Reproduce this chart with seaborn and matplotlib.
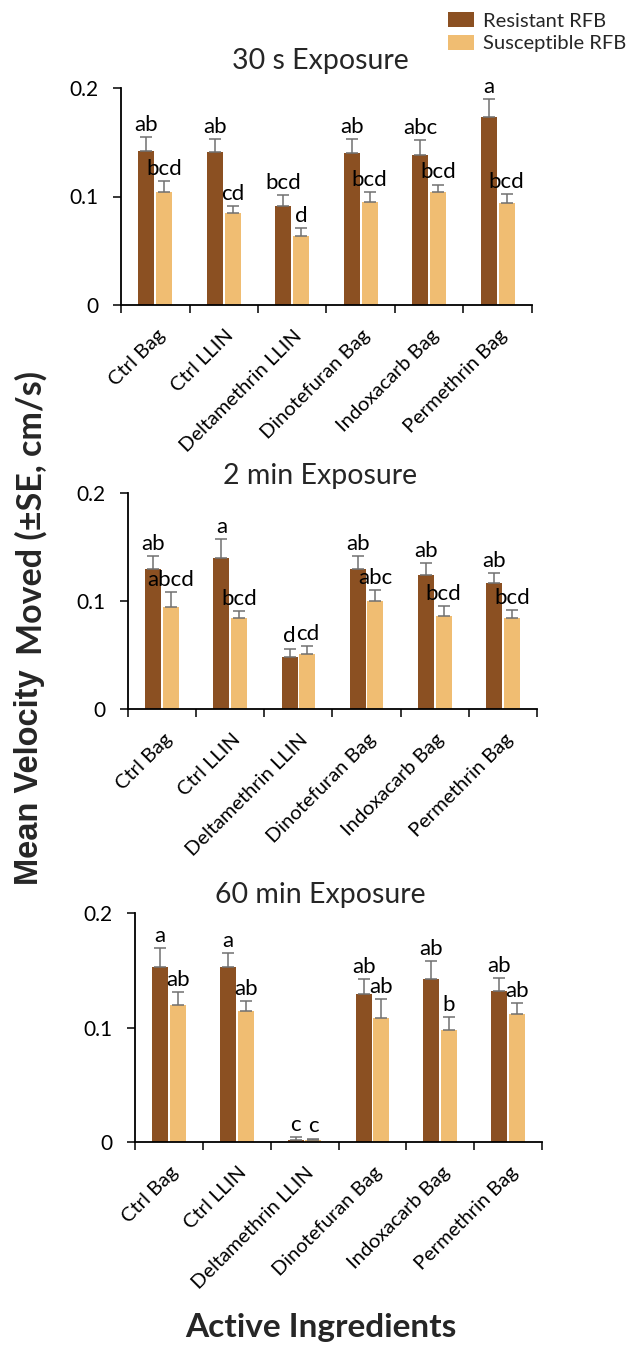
import numpy as np
import pandas as pd
import seaborn as sns
import matplotlib.pyplot as plt
from matplotlib.patches import Patch
from matplotlib.transforms import ScaledTranslation

# treatments on the x axis
treatments = ['Ctrl Bag', 'Ctrl LLIN', 'Deltamethrin LLIN', 'Dinotefuran Bag',
              'Indoxacarb Bag', 'Permethrin Bag']
strains = ['Resistant RFB', 'Susceptible RFB']
panel_titles = ['30 s Exposure', '2 min Exposure', '60 min Exposure']

# mean velocity (cm/s)
res_30s = [0.142, 0.141, 0.091, 0.140, 0.138, 0.173]
sus_30s = [0.104, 0.085, 0.064, 0.095, 0.104, 0.094]
res_2min = [0.130, 0.140, 0.048, 0.130, 0.124, 0.117]
sus_2min = [0.094, 0.084, 0.051, 0.100, 0.086, 0.084]
res_60min = [0.153, 0.153, 0.002, 0.129, 0.142, 0.132]
sus_60min = [0.120, 0.114, 0.002, 0.108, 0.098, 0.112]

# standard errors
res_30s_se = [0.013, 0.012, 0.010, 0.013, 0.014, 0.017]
sus_30s_se = [0.010, 0.006, 0.007, 0.009, 0.007, 0.008]
res_2min_se = [0.012, 0.017, 0.008, 0.012, 0.011, 0.009]
sus_2min_se = [0.014, 0.007, 0.007, 0.010, 0.009, 0.008]
res_60min_se = [0.016, 0.012, 0.002, 0.013, 0.016, 0.011]
sus_60min_se = [0.011, 0.009, 0.001, 0.017, 0.011, 0.009]

# significance letters
res_30s_lab = ['ab', 'ab', 'bcd', 'ab', 'abc', 'a']
sus_30s_lab = ['bcd', 'cd', 'd', 'bcd', 'bcd', 'bcd']
res_2min_lab = ['ab', 'a', 'd', 'ab', 'ab', 'ab']
sus_2min_lab = ['abcd', 'bcd', 'cd', 'abc', 'bcd', 'bcd']
res_60min_lab = ['a', 'a', 'c', 'ab', 'ab', 'ab']
sus_60min_lab = ['ab', 'ab', 'c', 'ab', 'b', 'ab']

panels = [
    (res_30s, sus_30s, res_30s_se, sus_30s_se, res_30s_lab, sus_30s_lab),
    (res_2min, sus_2min, res_2min_se, sus_2min_se, res_2min_lab, sus_2min_lab),
    (res_60min, sus_60min, res_60min_se, sus_60min_se, res_60min_lab, sus_60min_lab),
]

colors = ['#8B5022', '#F0BD72']

sns.set_style('white')
plt.rcParams['font.family'] = ['Lato', 'DejaVu Sans']

fig = plt.figure(figsize=(6.38, 13.45), dpi=100)
W, H = 638, 1345
# axes boxes in pixels: left, right, top, bottom
boxes = [(121, 532, 88, 305), (128, 537, 493, 709), (135, 542, 913, 1142)]
title_pads = [14, 6.5, 7]
title_center = 320

for (res, sus, res_se, sus_se, res_lab, sus_lab), box, title, tpad in zip(
        panels, boxes, panel_titles, title_pads):
    l, r, t, b = box
    ax = fig.add_axes([l / W, 1 - b / H, (r - l) / W, (b - t) / H])
    df = pd.DataFrame({
        'treatment': treatments * 2,
        'strain': [strains[0]] * 6 + [strains[1]] * 6,
        'velocity': res + sus,
    })
    sns.barplot(data=df, x='treatment', y='velocity', hue='strain',
                order=treatments, hue_order=strains, palette=colors,
                saturation=1, width=0.52, gap=0.1, errorbar=None, linewidth=0,
                legend=False, ax=ax)
    for cont, se, labs in zip(ax.containers, [res_se, sus_se], [res_lab, sus_lab]):
        xs = [p.get_x() + p.get_width() / 2 for p in cont]
        ys = [p.get_height() for p in cont]
        ax.errorbar(xs, ys, yerr=[np.zeros(len(se)), se], fmt='none',
                    ecolor='#707070', elinewidth=1.1, capsize=4, capthick=1.1)
        for x, y, e, lab in zip(xs, ys, se, labs):
            ax.annotate(lab, (x, y + e), xytext=(0, 1.5), textcoords='offset points',
                        ha='center', va='bottom', fontsize=16, color='black')

    ax.set_ylim(0, 0.2)
    ax.set_xlim(-0.5, 5.5)
    ax.set_yticks([0, 0.1, 0.2])
    ax.set_yticklabels(['0', '0.1', '0.2'])
    ax.set_xticks(range(len(treatments)))
    ax.set_xticklabels(treatments, rotation=45, ha='right', va='center',
                       rotation_mode='anchor')
    ax.set_xticks(np.arange(-0.5, 6, 1), minor=True)
    ax.tick_params(axis='x', which='major', length=0, pad=20, labelsize=14.5,
                   labelcolor='black')
    ax.tick_params(axis='x', which='minor', length=5.5, width=1.1, color='black',
                   direction='out', bottom=True)
    ax.tick_params(axis='y', length=5.5, width=1.1, color='black', direction='out',
                   left=True, pad=11, labelsize=15, labelcolor='black')
    # nudge category labels a little to the right, as in the original
    shift = ScaledTranslation(5 / 72, 0, fig.dpi_scale_trans)
    for lab in ax.get_xticklabels():
        lab.set_transform(lab.get_transform() + shift)
    ax.set_xlabel('')
    ax.set_ylabel('')
    ax.set_title(title, fontsize=20.5, pad=tpad, x=(title_center - l) / (r - l))
    for side in ['top', 'right']:
        ax.spines[side].set_visible(False)
    for side in ['left', 'bottom']:
        ax.spines[side].set_color('black')
        ax.spines[side].set_linewidth(1.3)
    ax.grid(False)

# y label (two fonts like in the original)
fig.text(30 / W, 1 - 885 / H, 'Mean Velocity', rotation=90, ha='center', va='bottom',
         fontsize=23.5, fontweight='bold', family=['Liberation Sans', 'DejaVu Sans'])
fig.text(31 / W, 1 - 655 / H, 'Moved (±SE, cm/s)', rotation=90, ha='center',
         va='bottom', fontsize=24.5, fontweight='bold')

fig.text(321 / W, 1 - 1337 / H, 'Active Ingredients', ha='center', va='baseline',
         fontsize=24, fontweight='bold')

handles = [Patch(facecolor=c, edgecolor='none', label=s) for c, s in zip(colors, strains)]
fig.legend(handles=handles, loc='upper left', bbox_to_anchor=(440 / W, 1 - 4 / H),
           frameon=False, fontsize=14.5, handlelength=1.3, handleheight=0.8,
           handletextpad=0.45, labelspacing=0.25, borderaxespad=0)

fig.savefig('out.png', dpi=100)
